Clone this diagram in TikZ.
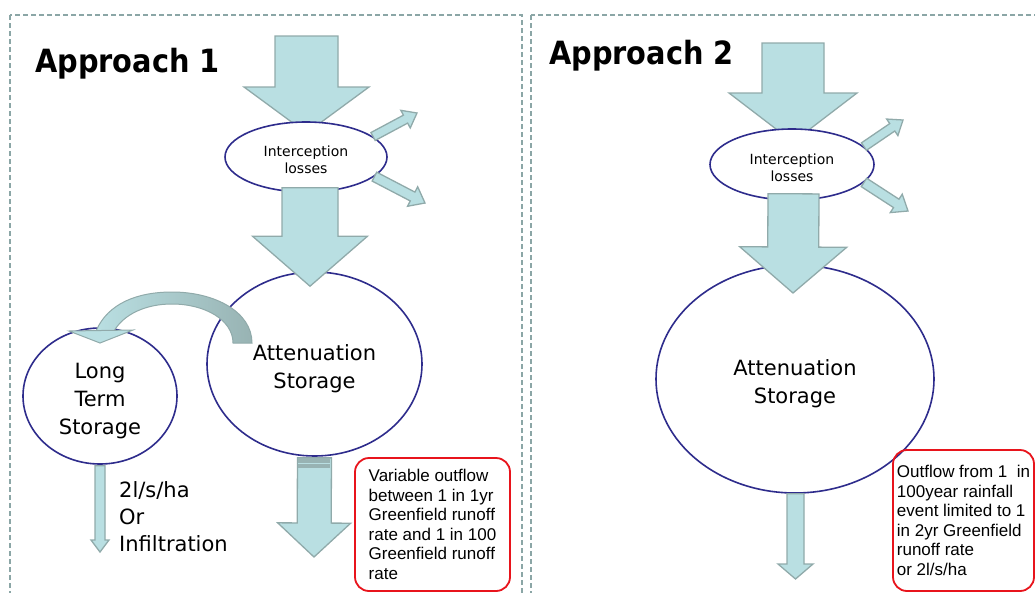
\documentclass[tikz,border=0pt]{standalone}
\usepackage{fontspec}
\setmainfont{DejaVu Sans}
\newfontfamily\notefont{Liberation Sans}
\newfontfamily\titlefont{DejaVu Sans}[FakeStretch=0.9]
\usetikzlibrary{shapes.geometric,calc}

\definecolor{flowfill}{HTML}{B9DFE2}
\definecolor{flowline}{HTML}{90AAAA}
\definecolor{flowdark}{HTML}{98B3B3}
\definecolor{poolline}{HTML}{2E2C8C}
\definecolor{noteline}{HTML}{E8141C}
\definecolor{frameline}{HTML}{8BA6A6}

\tikzset{
  panel/.style={draw=frameline,line width=1.5pt,dash pattern=on 5pt off 3pt},
  title/.style={anchor=base west,inner sep=0pt,font=\titlefont\bfseries\fontsize{32}{38}\selectfont},
  pool/.style={ellipse,draw=poolline,line width=1.6pt,fill=white,inner sep=0pt,align=center,
    font=\fontsize{21}{28}\selectfont},
  smallpool/.style={pool,font=\fontsize{14}{17}\selectfont},
  flow/.style={draw=flowline,line width=1.3pt,fill=flowfill,line join=miter},
  note/.style={draw=noteline,line width=1.8pt,rounded corners=14pt,align=left,inner sep=0pt,
    font=\notefont\fontsize{17}{19.5}\selectfont},
}

%% taller first line, pushes pool text a little down
\newcommand{\lowtext}{\rule{0pt}{1.2em}}

%% block arrow: tail, tip, half shaft, half head, head length
\newcommand{\fatarrow}[5]{%
  \coordinate (fa-base) at ($(#2)!#5!(#1)$);
  \draw[flow] ($(#1)!#3!90:(#2)$) -- ($(fa-base)!#3!-90:(#1)$) -- ($(fa-base)!#4!-90:(#1)$)
    -- (#2) -- ($(fa-base)!#4!90:(#1)$) -- ($(fa-base)!#3!90:(#1)$) -- ($(#1)!#3!-90:(#2)$) -- cycle;}

\begin{document}
\begin{tikzpicture}[x=1pt,y=-1pt]
    \useasboundingbox (0,0) rectangle (1035,592);
    \clip (0,0) rectangle (1035,592);
    %% Panels
    \draw[panel] (10,15) rectangle (522,620);
    \draw[panel] (531,15) rectangle (1060,620);
    \node[title] (head1) at (35,72) {Approach 1};
    \node[title] (head2) at (549,64) {Approach 2};

    %% Approach 1
    \node[pool,minimum width=215pt,minimum height=184pt] (att1) at (314.5,364) {\lowtext Attenuation\\Storage};
    \node[pool,minimum width=154pt,minimum height=136pt] (lts) at (100,396) {\lowtext Long\\Term\\Storage};
    \coordinate (rain1) at (306.5,36);
    \coordinate (int1in) at (306.5,133);
    \fatarrow{rain1}{int1in}{31.5pt}{62.5pt}{46pt}
    \node[smallpool,minimum width=162pt,minimum height=70pt] (int1) at (306,157) {\lowtext Interception\\losses};
    \coordinate (int1out) at ($(int1.south)+(4,-5)$);
    \coordinate (att1in) at ($(att1.north)+(-4.5,15)$);
    \fatarrow{int1out}{att1in}{28pt}{57.5pt}{50pt}
    \coordinate (loss1a) at (417,113);
    \coordinate (loss1b) at (425,203);
    \fatarrow{int1.17}{loss1a}{4.5pt}{10pt}{13pt}
    \fatarrow{int1.-16}{loss1b}{5pt}{11pt}{14pt}
    %% Curved transfer
    \path[draw=flowline,line width=1pt,left color=flowfill,right color=flowdark]
        (96,331) .. controls (108,303) and (138,292) .. (172,292)
        .. controls (215,292) and (252,312) .. (252,343) -- (233,343)
        .. controls (233,320) and (205,304) .. (172,304)
        .. controls (146,304) and (124,314) .. (114,331) -- cycle;
    \draw[flow,line width=1pt] (69,331) -- (133,330) -- (100,343) -- cycle;
    %% Outflows
    \coordinate (att1out) at ($(att1.south)+(0,1)$);
    \coordinate (drain1) at (314,557);
    \fatarrow{att1out}{drain1}{17pt}{36.5pt}{34pt}
    \fill[flowdark] (298,457.5) rectangle (330,468);
    \draw[flowfill,line width=1pt] (298,463) -- (330,463);
    \coordinate (lts out) at ($(lts.south)+(0,1)$);
    \coordinate (drainlts) at (100,552);
    \fatarrow{lts out}{drainlts}{5pt}{9pt}{12pt}
    \node[anchor=west,inner sep=0pt,align=left,font=\fontsize{21}{27}\selectfont] (rate1) at (119,516.5)
        {2l/s/ha\\Or\\Infiltration};
    \node[note,minimum width=155pt,minimum height=133pt] (note1) at (432.5,524.5)
        {Variable outflow\\between 1 in 1yr\\Greenfield runoff\\rate and 1 in 100\\Greenfield runoff\\rate};

    %% Approach 2
    \node[pool,minimum width=278pt,minimum height=228pt] (att2) at (795,379) {\lowtext Attenuation\\Storage};
    \coordinate (rain2) at (793,43);
    \coordinate (int2in) at (793,142);
    \fatarrow{rain2}{int2in}{31pt}{64pt}{49pt}
    \node[smallpool,minimum width=164pt,minimum height=71pt] (int2) at (792,164.5) {\lowtext Interception\\losses};
    \coordinate (int2out) at ($(int2.south)+(1.5,-7)$);
    \coordinate (att2in) at (793,293);
    \fatarrow{int2out}{att2in}{25.5pt}{53.5pt}{46pt}
    \coordinate (loss2a) at (903,120);
    \coordinate (loss2b) at (908,211);
    \fatarrow{int2.14}{loss2a}{4.5pt}{10pt}{13pt}
    \fatarrow{int2.-14}{loss2b}{5pt}{11pt}{14pt}
    \coordinate (att2out) at ($(att2.south)+(0.5,0)$);
    \coordinate (drain2) at (795.5,579);
    \fatarrow{att2out}{drain2}{8.5pt}{17.5pt}{15pt}
    \node[note,minimum width=141pt,minimum height=141pt] (note2) at (963.5,520.5)
        {Outflow from 1\ \ in\\100year rainfall\\event limited to 1\\in 2yr Greenfield\\runoff rate\\or 2l/s/ha};
\end{tikzpicture}
\end{document}
